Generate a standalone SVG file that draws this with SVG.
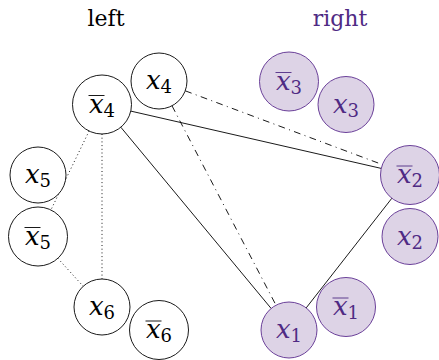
<svg xmlns="http://www.w3.org/2000/svg" width="439" height="360" viewBox="0 0 439 360">
  <style>
    .edge { fill: none; stroke: #000; stroke-width: 0.9; }
    .dashdot { stroke-dasharray: 6.8 4.4 1 4.4; }
    .dotted { stroke-dasharray: 1 2.7; }
    .lnode circle { fill: #fff; stroke: #000; stroke-width: 0.9; }
    .rnode circle { fill: #ddd3e6; stroke: #5b2c8f; stroke-width: 0.9; }
    .lnode text { fill: #000; }
    .rnode text { fill: #4f2a84; }
    .lnode .bar { stroke: #000; stroke-width: 0.9; }
    .rnode .bar { stroke: #4f2a84; stroke-width: 0.9; }
    text { font-family: "DejaVu Serif", serif; }
    .lbl { font-size: 22px; text-anchor: middle; }
    .var { font-size: 26px; text-anchor: middle; }
    .var .x { font-style: italic; }
    .var .sub { font-size: 18px; }
  </style>

  <!-- side headings -->
  <text class="lbl" x="106" y="26" fill="#000">left</text>
  <text class="lbl" x="340" y="26" fill="#4f2a84">right</text>

  <!-- connectors (drawn boundary to boundary) -->
  <g id="connectors">
    <line class="edge" x1="120.8" y1="127.2" x2="271.1" y2="308.4"/>
    <line class="edge" x1="130.8" y1="111.1" x2="381.2" y2="168.4"/>
    <line class="edge" x1="306.2" y1="307.9" x2="391.9" y2="198.2"/>
    <line class="edge dashdot" x1="185.2" y1="90.8" x2="382.4" y2="164.6"/>
    <line class="edge dashdot" x1="172" y1="105.8" x2="276" y2="305.2"/>
    <line class="edge dotted" x1="89.1" y1="131" x2="50.9" y2="210"/>
    <line class="edge dotted" x1="102" y1="134" x2="102" y2="279"/>
    <line class="edge dotted" x1="57.8" y1="258.3" x2="83.2" y2="286.3"/>
  </g>

  <!-- left group -->
  <g id="n-x4" class="lnode">
    <circle cx="159" cy="81" r="28"/>
    <text class="var" x="159" y="89"><tspan class="x">x</tspan><tspan class="sub" dy="4">4</tspan></text>
  </g>
  <g id="n-nx4" class="lnode">
    <circle cx="102" cy="104.5" r="29.5"/>
    <line class="bar" x1="88.5" y1="95.5" x2="104.5" y2="95.5"/>
    <text class="var" x="102" y="112.5"><tspan class="x">x</tspan><tspan class="sub" dy="4">4</tspan></text>
  </g>
  <g id="n-x5" class="lnode">
    <circle cx="38" cy="175" r="28"/>
    <text class="var" x="38" y="183"><tspan class="x">x</tspan><tspan class="sub" dy="4">5</tspan></text>
  </g>
  <g id="n-nx5" class="lnode">
    <circle cx="38" cy="236.5" r="29.5"/>
    <line class="bar" x1="24.5" y1="227.5" x2="40.5" y2="227.5"/>
    <text class="var" x="38" y="244.5"><tspan class="x">x</tspan><tspan class="sub" dy="4">5</tspan></text>
  </g>
  <g id="n-x6" class="lnode">
    <circle cx="102" cy="307" r="28"/>
    <text class="var" x="102" y="315"><tspan class="x">x</tspan><tspan class="sub" dy="4">6</tspan></text>
  </g>
  <g id="n-nx6" class="lnode">
    <circle cx="159" cy="330" r="29.5"/>
    <line class="bar" x1="145.5" y1="321" x2="161.5" y2="321"/>
    <text class="var" x="159" y="338"><tspan class="x">x</tspan><tspan class="sub" dy="4">6</tspan></text>
  </g>

  <!-- right group -->
  <g id="n-x1" class="rnode">
    <circle cx="289" cy="330" r="28"/>
    <text class="var" x="289" y="338"><tspan class="x">x</tspan><tspan class="sub" dy="4">1</tspan></text>
  </g>
  <g id="n-nx1" class="rnode">
    <circle cx="346" cy="307" r="29.5"/>
    <line class="bar" x1="332.5" y1="298" x2="348.5" y2="298"/>
    <text class="var" x="346" y="315"><tspan class="x">x</tspan><tspan class="sub" dy="4">1</tspan></text>
  </g>
  <g id="n-x2" class="rnode">
    <circle cx="410" cy="236.5" r="28"/>
    <text class="var" x="410" y="244.5"><tspan class="x">x</tspan><tspan class="sub" dy="4">2</tspan></text>
  </g>
  <g id="n-nx2" class="rnode">
    <circle cx="410" cy="175" r="29.5"/>
    <line class="bar" x1="396.5" y1="166" x2="412.5" y2="166"/>
    <text class="var" x="410" y="183"><tspan class="x">x</tspan><tspan class="sub" dy="4">2</tspan></text>
  </g>
  <g id="n-x3" class="rnode">
    <circle cx="346" cy="104.5" r="28"/>
    <text class="var" x="346" y="112.5"><tspan class="x">x</tspan><tspan class="sub" dy="4">3</tspan></text>
  </g>
  <g id="n-nx3" class="rnode">
    <circle cx="289" cy="81.5" r="29.5"/>
    <line class="bar" x1="275.5" y1="72.5" x2="291.5" y2="72.5"/>
    <text class="var" x="289" y="89.5"><tspan class="x">x</tspan><tspan class="sub" dy="4">3</tspan></text>
  </g>
</svg>
